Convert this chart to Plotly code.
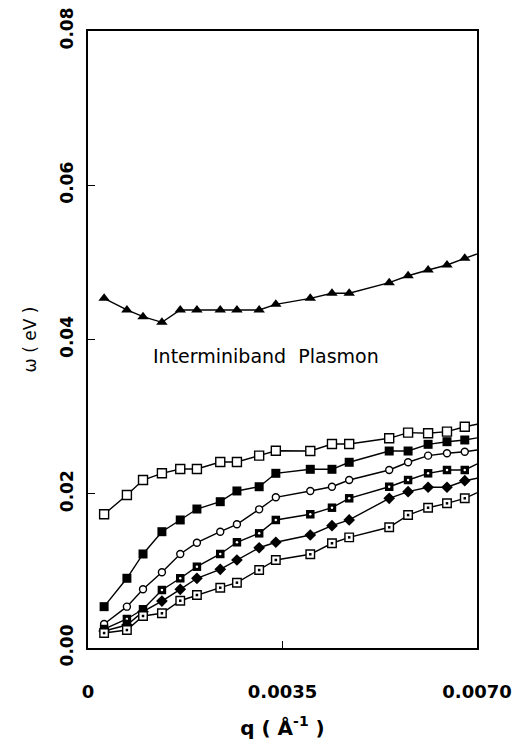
import plotly.graph_objects as go

q = [0.00029, 0.00070, 0.00099, 0.00133, 0.00166, 0.00196, 0.00238, 0.00268,
     0.00308, 0.00338, 0.00400, 0.00439, 0.00470, 0.00542, 0.00576, 0.00612,
     0.00646, 0.00678, 0.00712]

plasmon = [0.04534, 0.04383, 0.04296, 0.04223, 0.04383, 0.04383, 0.04383, 0.04383,
           0.04383, 0.04456, 0.04534, 0.04599, 0.04599, 0.04737, 0.04827, 0.04901,
           0.04966, 0.05053, 0.05140]

s1_open_sq = [0.01734, 0.01984, 0.02178, 0.02265, 0.02321, 0.02321, 0.02412, 0.02412,
              0.02494, 0.02558, 0.02554, 0.02645, 0.02645, 0.02719, 0.02792, 0.02784,
              0.02805, 0.02869, 0.02920]
s2_fill_sq = [0.00536, 0.00904, 0.01219, 0.01508, 0.01660, 0.01802, 0.01897, 0.02036,
              0.02091, 0.02265, 0.02317, 0.02317, 0.02408, 0.02554, 0.02554, 0.02641,
              0.02675, 0.02697, 0.02740]
s3_open_circ = [0.00311, 0.00536, 0.00761, 0.00982, 0.01219, 0.01365, 0.01508, 0.01604,
                0.01798, 0.01954, 0.02036, 0.02091, 0.02178, 0.02308, 0.02408, 0.02494,
                0.02525, 0.02545, 0.02580]
s4_dot_sq = [0.00246, 0.00376, 0.00502, 0.00752, 0.00904, 0.01054, 0.01219, 0.01371,
             0.01487, 0.01660, 0.01734, 0.01819, 0.01941, 0.02091, 0.02178, 0.02265,
             0.02308, 0.02308, 0.02430]
s5_fill_dia = [0.00220, 0.00298, 0.00471, 0.00609, 0.00761, 0.00904, 0.01020, 0.01141,
               0.01300, 0.01371, 0.01465, 0.01586, 0.01660, 0.01941, 0.02027, 0.02084,
               0.02084, 0.02169, 0.02220]
s6_open_dot_sq = [0.00194, 0.00233, 0.00415, 0.00450, 0.00613, 0.00687, 0.00782, 0.00847,
                  0.01011, 0.01141, 0.01215, 0.01358, 0.01435, 0.01565, 0.01724, 0.01819,
                  0.01876, 0.01941, 0.02050]

x_ticks = [0, 0.0035, 0.0070]
x_ticktext = ["0", "0.0035", "0.0070"]
y_ticks = [0.00, 0.02, 0.04, 0.06, 0.08]
y_ticktext = ["0.00", "0.02", "0.04", "0.06", "0.08"]

fig = go.Figure()

LINE = dict(color="black", width=1.4)

def add(y, symbol, size, lw=1.4, mcolor="black"):
    fig.add_trace(go.Scatter(
        x=q, y=y, mode="lines+markers", line=LINE,
        marker=dict(symbol=symbol, size=size, color=mcolor,
                    line=dict(color="black", width=lw)),
        showlegend=False))

add(plasmon, "triangle-up", 10, 0)
add(s1_open_sq, "square", 9, 1.4, "white")
add(s2_fill_sq, "square", 9, 0)
add(s3_open_circ, "circle", 7, 1.4, "white")
add(s4_dot_sq, "square", 8.5, 0)
fig.add_trace(go.Scatter(x=q, y=s4_dot_sq, mode="markers",
                         marker=dict(symbol="circle", size=2.5, color="white"),
                         showlegend=False))
add(s5_fill_dia, "diamond", 9, 0)
add(s6_open_dot_sq, "square", 8.5, 1.4, "white")
fig.add_trace(go.Scatter(x=q, y=s6_open_dot_sq, mode="markers",
                         marker=dict(symbol="square", size=2.5, color="black"),
                         showlegend=False))

fig.add_annotation(x=0.0032, y=0.0378, text="Interminiband  Plasmon",
                   showarrow=False,
                   font=dict(family="DejaVu Sans", size=19, color="#000000"))

fig.update_layout(
    width=522, height=746,
    margin=dict(l=88, r=45, t=31, b=98, autoexpand=False),
    plot_bgcolor="white", paper_bgcolor="white",
    font=dict(family="DejaVu Sans", color="#000000"),
    xaxis=dict(range=[0, 0.0070], tickvals=x_ticks, ticktext=x_ticktext,
               automargin=False,
               ticks="inside", ticklen=7, tickwidth=1.2, tickcolor="black",
               ticklabelstandoff=26,
               showline=True, linecolor="black", linewidth=2, mirror=True,
               showgrid=False, zeroline=False,
               tickfont=dict(family="DejaVu Sans", size=18, color="#000000", weight="bold"),
               title=dict(text="q ( Å<sup>-1</sup> )", standoff=20,
                          font=dict(family="DejaVu Sans", size=20, color="#000000", weight="bold"))),
    yaxis=dict(range=[0, 0.08], tickvals=y_ticks, ticktext=y_ticktext,
               automargin=False,
               ticks="inside", ticklen=7, tickwidth=1.2, tickcolor="black",
               tickangle=-90, ticklabelstandoff=6,
               showline=True, linecolor="black", linewidth=2, mirror=True,
               showgrid=False, zeroline=False,
               tickfont=dict(family="DejaVu Sans", size=17, color="#000000", weight="bold"),
               title=dict(text="ω ( eV )", standoff=16,
                          font=dict(family="DejaVu Sans", size=17, color="#000000"))),
)

fig.write_html("out.html")
